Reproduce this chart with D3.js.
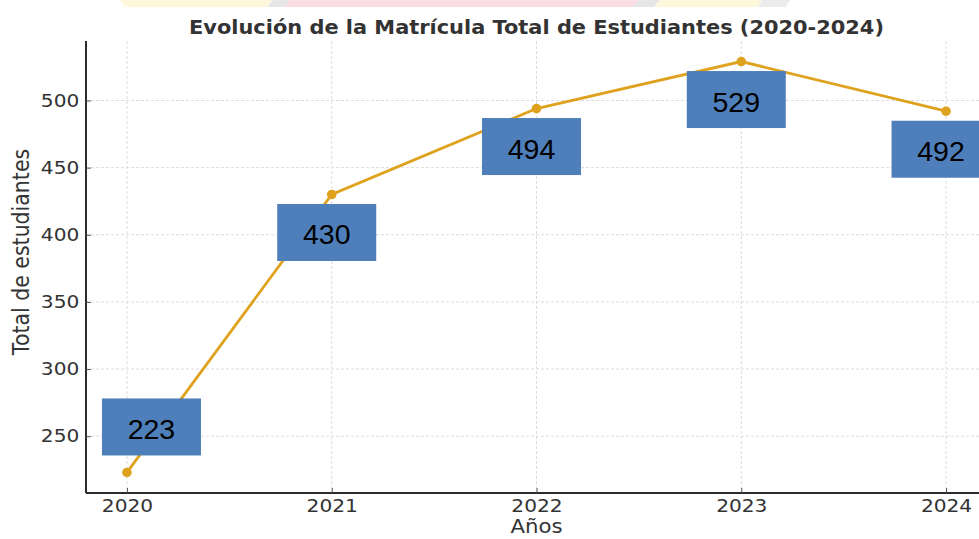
<!DOCTYPE html>
<html>
<head>
<meta charset="utf-8">
<script src="https://cdn.jsdelivr.net/npm/d3@7"></script>
<style>
  body { margin: 0; background: #fff; overflow: hidden; }
  svg { display: block; }
</style>
</head>
<body>
<div id="chart"></div>
<script>
const years = [2020, 2021, 2022, 2023, 2024];
const students = [223, 430, 494, 529, 492];
const yTicks = [250, 300, 350, 400, 450, 500];

const titleText = "Evolución de la Matrícula Total de Estudiantes (2020-2024)";
const xLabel = "Años";
const yLabel = "Total de estudiantes";

const W = 979, H = 539;
const plot = { left: 86, right: 987, top: 41, bottom: 493 };
const stretch = 1.12; // source image was widened a little
const textColor = "#333333";
const lineColor = "#DFA21E";
const boxColor = "#4E7FBB";

const svg = d3.select("#chart").append("svg")
  .attr("width", W)
  .attr("height", H);

// faint logo strip cut off at the top of the picture
const strip = svg.append("g").attr("opacity", 0.45);
strip.append("polygon").attr("points", "120,0 272,0 268,7 125,7").attr("fill", "#fbefb0");
strip.append("polygon").attr("points", "272,0 290,0 284,7 268,7").attr("fill", "#c9c9c9");
strip.append("polygon").attr("points", "290,0 640,0 632,7 284,7").attr("fill", "#f5b8c4");
strip.append("polygon").attr("points", "640,0 660,0 654,7 632,7").attr("fill", "#c9c9c9");
strip.append("polygon").attr("points", "660,0 762,0 758,7 654,7").attr("fill", "#fbefb0");
strip.append("polygon").attr("points", "762,0 790,0 786,7 758,7").attr("fill", "#d6d6d6");

// data range plus 5% padding on each side
const ySpan = d3.max(students) - d3.min(students);
const xScale = d3.scaleLinear()
  .domain([d3.min(years) - 0.2, d3.max(years) + 0.2])
  .range([plot.left, plot.right]);
const yScale = d3.scaleLinear()
  .domain([d3.min(students) - ySpan * 0.05, d3.max(students) + ySpan * 0.05])
  .range([plot.bottom, plot.top]);

// grid
const grid = svg.append("g")
  .attr("stroke", "#dcdcdc")
  .attr("stroke-width", 1)
  .attr("stroke-dasharray", "3,2");
years.forEach(y => {
  grid.append("line")
    .attr("x1", xScale(y)).attr("x2", xScale(y))
    .attr("y1", plot.top).attr("y2", plot.bottom);
});
yTicks.forEach(t => {
  grid.append("line")
    .attr("x1", plot.left).attr("x2", plot.right)
    .attr("y1", yScale(t)).attr("y2", yScale(t));
});

// axes
const xAxis = svg.append("g")
  .attr("transform", `translate(0,${plot.bottom})`)
  .call(d3.axisBottom(xScale)
    .tickValues(years)
    .tickFormat(d3.format("d"))
    .tickSizeInner(-5)
    .tickSizeOuter(0)
    .tickPadding(6));

const yAxis = svg.append("g")
  .attr("transform", `translate(${plot.left},0)`)
  .call(d3.axisLeft(yScale)
    .tickValues(yTicks)
    .tickSizeInner(-5)
    .tickSizeOuter(0)
    .tickPadding(6));

[xAxis, yAxis].forEach(ax => {
  ax.select(".domain").attr("stroke", "#2b2b2b").attr("stroke-width", 2);
  ax.selectAll(".tick line").attr("stroke", "#555").attr("stroke-width", 1);
  ax.selectAll(".tick text")
    .attr("fill", textColor)
    .style("font-family", "'DejaVu Sans', sans-serif")
    .style("font-size", "18px")
    .attr("transform", `scale(${stretch},1)`);
});
yAxis.select(".domain").attr("d", `M0,${plot.top}V${plot.bottom}`);
xAxis.select(".domain").attr("d", `M${plot.left},0H${plot.right}`);

// line and markers
const line = d3.line()
  .x((d, i) => xScale(years[i]))
  .y(d => yScale(d));

svg.append("path")
  .datum(students)
  .attr("fill", "none")
  .attr("stroke", lineColor)
  .attr("stroke-width", 2.8)
  .attr("d", line);

svg.selectAll(".dot")
  .data(students)
  .join("circle")
  .attr("class", "dot")
  .attr("cx", (d, i) => xScale(years[i]))
  .attr("cy", d => yScale(d))
  .attr("r", 4.8)
  .attr("fill", lineColor);

// title and axis labels
svg.append("text")
  .attr("transform", `translate(${(plot.left + plot.right) / 2},34) scale(1.1,1)`)
  .attr("text-anchor", "middle")
  .attr("fill", textColor)
  .style("font-family", "'DejaVu Sans', sans-serif")
  .style("font-size", "19px")
  .style("font-weight", "bold")
  .text(titleText);

svg.append("text")
  .attr("transform", `translate(${(plot.left + plot.right) / 2},533) scale(${stretch},1)`)
  .attr("text-anchor", "middle")
  .attr("fill", textColor)
  .style("font-family", "'DejaVu Sans', sans-serif")
  .style("font-size", "19px")
  .text(xLabel);

svg.append("text")
  .attr("transform", `translate(29,252) rotate(-90) scale(1,${stretch})`)
  .attr("text-anchor", "middle")
  .attr("fill", textColor)
  .style("font-family", "'DejaVu Sans', sans-serif")
  .style("font-size", "20.5px")
  .text(yLabel);

// value callouts (blue boxes pasted over the chart)
const boxW = 99, boxH = 57;
const callouts = svg.append("g");
students.forEach((v, i) => {
  const px = xScale(years[i]);
  const py = yScale(v);
  // boxes sit under the point, unless that would hit the x axis
  const below = py + 38 + boxH / 2 < plot.bottom;
  const cx = below ? px - 5 : px + 24.5;
  const cy = below ? py + 38 : py - 45.5;
  callouts.append("rect")
    .attr("x", cx - boxW / 2)
    .attr("y", cy - boxH / 2)
    .attr("width", boxW)
    .attr("height", boxH)
    .attr("fill", boxColor);
  callouts.append("text")
    .attr("x", cx)
    .attr("y", cy + 12)
    .attr("text-anchor", "middle")
    .attr("fill", "#000")
    .style("font-family", "'Liberation Sans', Arial, sans-serif")
    .style("font-size", "28.5px")
    .text(v);
});
</script>
</body>
</html>
